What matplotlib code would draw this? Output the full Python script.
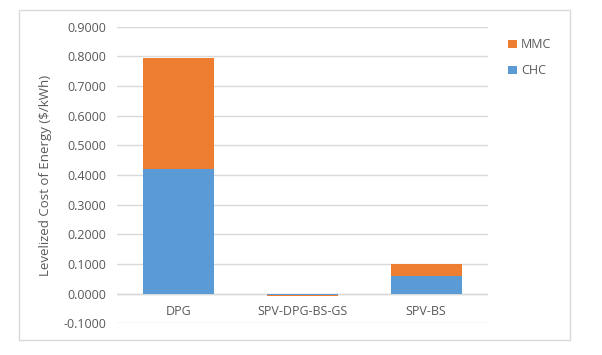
import matplotlib.pyplot as plt
import numpy as np
from matplotlib.patches import Rectangle

# Levelized cost of energy by system configuration
categories = ['DPG', 'SPV-DPG-BS-GS', 'SPV-BS']
chc = [0.420, -0.003, 0.061]
mmc = [0.374, -0.006, 0.038]

blue = '#5b9bd5'
orange = '#ed7d31'
grey = '#595959'

plt.rcParams['font.family'] = ['Open Sans', 'DejaVu Sans']

fig = plt.figure(figsize=(6.02, 3.55), dpi=100)
ax = fig.add_axes([117 / 602, 1 - 323.3 / 355, (488 - 117) / 602, (323.3 - 26.7) / 355])

x = np.arange(len(categories))
width = 0.575
chc = np.array(chc)
mmc = np.array(mmc)
# Excel-style stacking: negatives stack downward from zero
base = np.where(mmc < 0, np.minimum(chc, 0), np.maximum(chc, 0))
ax.bar(x, chc, width, color=blue, label='CHC', zorder=3)
ax.bar(x, mmc, width, bottom=base, color=orange, label='MMC', zorder=3)

ax.set_xlim(-0.5, 2.5)
ax.set_ylim(-0.1, 0.9)
ax.set_yticks(np.arange(-0.1, 0.91, 0.1))
ax.set_yticklabels([f'{v:.4f}' for v in np.arange(-0.1, 0.91, 0.1)])
ax.yaxis.grid(True, color='#d9d9d9', linewidth=1, zorder=0)
ax.tick_params(axis='y', length=0, labelsize=9, colors=grey, pad=8)
ax.set_xticks([])
for i, c in enumerate(categories):
    ax.text(x[i], -0.06, c, ha='center', va='center', fontsize=9, color=grey)
for s in ax.spines.values():
    s.set_visible(False)
ax.axhline(0, color='#d9d9d9', linewidth=1, zorder=2)

ax.set_ylabel('Levelized Cost of Energy ($/kWh)', fontsize=9.5, color=grey, labelpad=8)

handles, labels = ax.get_legend_handles_labels()
fig.legend(handles[::-1], labels[::-1], loc='upper left', bbox_to_anchor=(497 / 602, 1 - 27 / 355),
           frameon=False, fontsize=9, labelcolor=grey, handlelength=0.7, handleheight=0.7,
           handletextpad=0.3, labelspacing=1.05)

fig.patches.append(Rectangle((19 / 602, 1 - 340 / 355), (570 - 19) / 602, (340 - 10) / 355,
                             transform=fig.transFigure, fill=False, edgecolor='#d9d9d9',
                             linewidth=1, zorder=0))

fig.savefig('out.png', dpi=100)
